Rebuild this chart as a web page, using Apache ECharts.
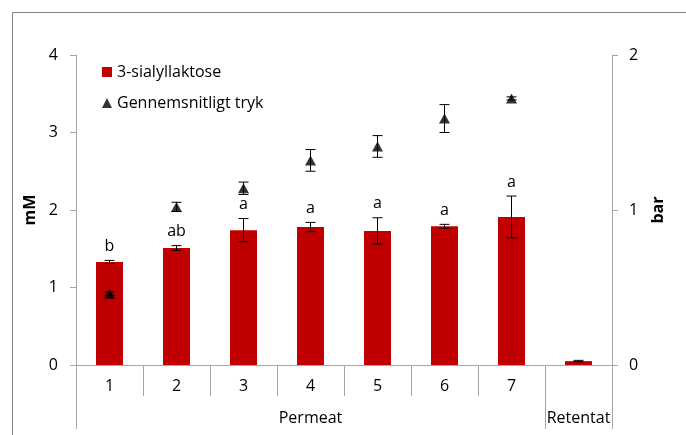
<!DOCTYPE html>
<html>
<head>
<meta charset="utf-8">
<script src="https://cdn.jsdelivr.net/npm/echarts@6/dist/echarts.min.js"></script>
<style>
html,body{margin:0;padding:0;background:#fff;}
#c{width:686px;height:435px;}
</style>
</head>
<body>
<div id="c"></div>
<script>
var categories = ['1','2','3','4','5','6','7',''];
var groupLabels = ['Permeat','Retentat'];
var sialyl = [1.33, 1.51, 1.74, 1.78, 1.73, 1.79, 1.91, 0.05];
var sialylErr = [0.02, 0.03, 0.15, 0.06, 0.17, 0.025, 0.27, 0.01];
var letters = ['b','ab','a','a','a','a','a',''];
var pressure = [0.46, 1.02, 1.14, 1.32, 1.41, 1.59, 1.72, null];
var pressureErr = [0.01, 0.03, 0.04, 0.07, 0.07, 0.09, 0.01, null];
var leftTicks = [0, 1, 2, 3, 4];
var rightTicks = [0, 1, 2];

var FONT = 'Open Sans';
var FS = 16;
var AX = '#a6a6a6';

function errRender(vals, errs, withLetters) {
  return function (params, api) {
    var i = api.value(0);
    var v = vals[i], e = errs[i];
    if (v == null) return;
    var top = api.coord([i, v + e]);
    var bot = api.coord([i, v - e]);
    var hw = 5;
    var children = [
      {type:'line', shape:{x1:top[0], y1:top[1], x2:bot[0], y2:bot[1]}, style:{stroke:'#000', lineWidth:1}},
      {type:'line', shape:{x1:top[0]-hw, y1:top[1], x2:top[0]+hw, y2:top[1]}, style:{stroke:'#000', lineWidth:1}},
      {type:'line', shape:{x1:bot[0]-hw, y1:bot[1], x2:bot[0]+hw, y2:bot[1]}, style:{stroke:'#000', lineWidth:1}}
    ];
    if (withLetters && letters[i]) {
      children.push({type:'text', style:{text:letters[i], x:top[0], y:top[1]-14, align:'center', verticalAlign:'middle', fill:'#000', font:FS + 'px "' + FONT + '"'}});
    }
    return {type:'group', children:children};
  };
}

var chart = echarts.init(document.getElementById('c'));
chart.setOption({
  animation: false,
  textStyle: {fontFamily: FONT},
  graphic: [{type:'rect', shape:{x:12.5, y:12.5, width:800, height:600}, style:{fill:'none', stroke:'#808080', lineWidth:1}, silent:true, z:-10}],
  grid: {left:76, right:74, top:55, bottom:70, containLabel:false},
  legend: {
    orient:'vertical', left:97, top:59, itemGap:15, itemWidth:10, itemHeight:10,
    textStyle:{fontSize:FS, color:'#000', fontFamily:FONT},
    data:[{name:'3-sialyllaktose', icon:'rect'}, {name:'Gennemsnitligt tryk', icon:'triangle'}]
  },
  xAxis: [
    {
      type:'category', data:categories, position:'bottom',
      axisLine:{show:true, lineStyle:{color:AX, width:1}},
      axisTick:{show:true, length:31, lineStyle:{color:AX}},
      axisLabel:{fontSize:FS, color:'#000', margin:13, fontFamily:FONT}
    },
    {
      type:'value', min:0, max:8, position:'bottom',
      axisLine:{show:false}, splitLine:{show:false},
      axisTick:{show:true, length:64, customValues:[0,7,8], lineStyle:{color:AX}},
      axisLabel:{show:true, fontSize:FS, color:'#000', margin:45, fontFamily:FONT,
        customValues:[3.5,7.5],
        formatter:function(v){ return v < 7 ? groupLabels[0] : groupLabels[1]; }}
    }
  ],
  yAxis: [
    {
      type:'value', min:0, max:4, interval:1, position:'left',
      name:'mM', nameLocation:'middle', nameRotate:90, nameGap:36,
      nameTextStyle:{fontSize:16, fontWeight:'bold', color:'#000', fontFamily:FONT},
      axisLine:{show:true, lineStyle:{color:AX}},
      axisTick:{show:true, inside:false, length:6, lineStyle:{color:AX}},
      axisLabel:{fontSize:FS, color:'#000', margin:18, fontFamily:FONT},
      splitLine:{show:false}
    },
    {
      type:'value', min:0, max:2, interval:1, position:'right',
      name:'bar', nameLocation:'middle', nameRotate:90, nameGap:38,
      nameTextStyle:{fontSize:16, fontWeight:'bold', color:'#000', fontFamily:FONT},
      axisLine:{show:true, lineStyle:{color:AX}},
      axisTick:{show:true, inside:false, length:6, lineStyle:{color:AX}},
      axisLabel:{fontSize:FS, color:'#000', margin:17, fontFamily:FONT},
      splitLine:{show:false}
    }
  ],
  series: [
    {
      name:'3-sialyllaktose', type:'bar', xAxisIndex:0, yAxisIndex:0,
      data:sialyl, barWidth:27, itemStyle:{color:'#c00000'}
    },
    {
      name:'sialylErr', type:'custom', xAxisIndex:0, yAxisIndex:0,
      data:sialyl.map(function(v,i){return [i, v];}),
      renderItem: errRender(sialyl, sialylErr, true), z:5
    },
    {
      name:'pressureErr', type:'custom', xAxisIndex:0, yAxisIndex:1,
      data:pressure.map(function(v,i){return [i, v];}),
      renderItem: errRender(pressure, pressureErr, false), z:5
    },
    {
      name:'Gennemsnitligt tryk', type:'scatter', xAxisIndex:0, yAxisIndex:1,
      data:pressure, symbol:'triangle', symbolSize:[11,10],
      itemStyle:{color:'#000'}, z:6
    }
  ]
});
</script>
</body>
</html>
